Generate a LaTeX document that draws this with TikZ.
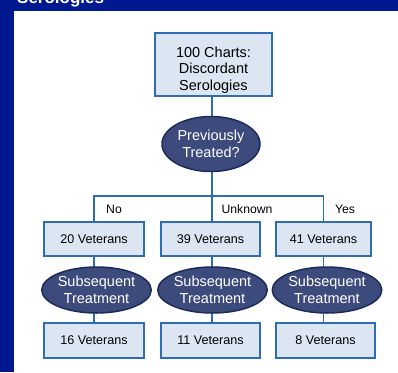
\documentclass[tikz,border=0pt]{standalone}
\usepackage{fontspec}
\setmainfont{Liberation Sans}
\usetikzlibrary{shapes.geometric,backgrounds}
\definecolor{band}{RGB}{0,24,143}
\definecolor{boxfill}{RGB}{220,230,242}
\definecolor{boxline}{RGB}{46,109,180}
\definecolor{ellfill}{RGB}{61,75,124}
\definecolor{ellline}{RGB}{28,43,90}
\tikzset{
  vbox/.style={draw=boxline, line width=1.5pt, fill=boxfill, inner sep=0pt, align=center, font=\fontsize{12.6}{15}\selectfont},
  decision/.style={ellipse, draw=ellline, line width=1.5pt, fill=ellfill, text=white, inner sep=0pt, align=center, font=\fontsize{14.5}{17}\selectfont},
  conn/.style={draw=boxline, line width=1.5pt},
  lbl/.style={inner sep=0pt, font=\fontsize{12.2}{14}\selectfont}
}
\begin{document}
\begin{tikzpicture}[x=1pt,y=-1pt]
\useasboundingbox (0,0) rectangle (398,372);
\fill[band] (0,0) rectangle (398,11);
\fill[band] (0,0) rectangle (14,372);
\begin{scope}
\clip (0,0) rectangle (398,11);
\node[anchor=base west, inner sep=0pt, text=white, font=\bfseries\fontsize{17}{20}\selectfont] (title) at (17,3.5) {Serologies};
\end{scope}
\node[vbox, minimum width=117pt, minimum height=63pt, font=\fontsize{14.5}{17}\selectfont] (top) at (213.5,64.5) {\raisebox{-9.6pt}[0pt][0pt]{\begin{tabular}{@{}c@{}}100 Charts:\\[-0.5pt]Discordant\\[-0.5pt]Serologies\end{tabular}}};
\node[decision, minimum width=98pt, minimum height=55pt] (prev) at (211,144) {Previously\\Treated?};
\coordinate (split) at (212,196);
\node[vbox, minimum width=100pt, minimum height=34pt] (b1) at (94,239) {20 Veterans};
\node[vbox, minimum width=99pt, minimum height=34pt] (b2) at (210.5,239) {39 Veterans};
\node[vbox, minimum width=95pt, minimum height=34pt] (b3) at (323.5,239) {41 Veterans};
\node[decision, minimum width=105pt, minimum height=46pt] (e1) at (96.5,290) {Subsequent\\Treatment};
\node[decision, minimum width=105pt, minimum height=46pt] (e2) at (212.5,290) {Subsequent\\Treatment};
\node[decision, minimum width=104pt, minimum height=46pt] (e3) at (327,290) {Subsequent\\Treatment};
\node[vbox, minimum width=100pt, minimum height=35pt] (c1) at (94,340.5) {16 Veterans};
\node[vbox, minimum width=99pt, minimum height=35pt] (c2) at (210.5,340.5) {11 Veterans};
\node[vbox, minimum width=99pt, minimum height=35pt] (c3) at (325.5,340.5) {8 Veterans};
\node[lbl] (no) at (114,209.5) {No};
\node[lbl] (unk) at (247,209.5) {Unknown};
\node[lbl] (yes) at (345,209.5) {Yes};
\begin{scope}[on background layer]
\draw[conn] (split |- top.south) -- (split);
\draw[conn] (split) -- (split -| b1) -- (b1);
\draw[conn] (split) -- (split -| b3) -- (b3);
\draw[conn] (split) -- (split |- b2.north);
\draw[conn] (b1.south) -- (c1.north);
\draw[conn] ([xshift=1.5pt]b2.south) -- ([xshift=1.5pt]c2.north);
\draw[conn] (b3.south) -- (b3.south |- c3.north);
\end{scope}
\end{tikzpicture}
\end{document}
